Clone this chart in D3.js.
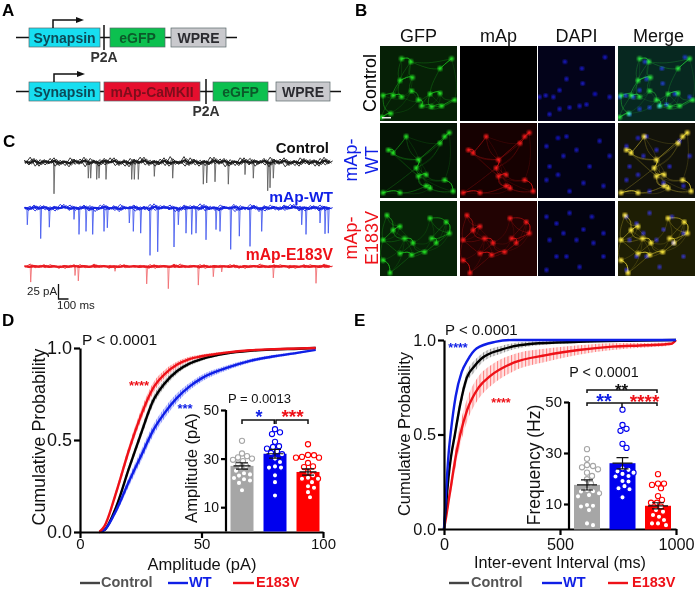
<!DOCTYPE html>
<html>
<head>
<meta charset="utf-8">
<script src="https://cdn.jsdelivr.net/npm/d3@7"></script>
<style>
html, body { margin: 0; padding: 0; background: #fff; }
svg { display: block; font-family: "Liberation Sans", Arial, sans-serif; }
.axis path, .axis line { stroke: #000; stroke-width: 2.2px; }
.axis text { fill: #111; }
</style>
</head>
<body>
<svg id="chart" width="696" height="590"></svg>
<script>
// groups
var groups = ["Control", "WT", "E183V"];

// panel A
var constructOne = ["Synapsin", "eGFP", "WPRE"];
var constructTwo = ["Synapsin", "mAp-CaMKII", "eGFP", "WPRE"];

// panel B, cell positions (percent of the tile)
var channels = ["GFP", "mAp", "DAPI", "Merge"];
var controlCells = [[26,46],[40,21],[42,42],[78,30],[93,17],[4,66],[17,66],[28,68],[41,60],[50,72],[54,80],[67,81],[80,80],[78,63],[97,72],[14,90],[2,95],[65,64],[28,17]];
var wtCells = [[34,18],[84,18],[78,27],[17,40],[50,49],[47,60],[60,69],[50,71],[84,76],[60,84],[4,93],[26,93],[95,91],[65,87],[90,13],[11,36]];
var e183vCells = [[9,19],[26,34],[65,23],[17,39],[32,50],[4,52],[67,50],[43,56],[58,68],[73,56],[13,96],[86,28],[26,70],[4,79],[41,72],[90,43]];
var controlDapi = [[10,66],[20,68],[28,59],[35,21],[57,30],[74,64],[93,68],[54,80],[41,82],[63,78],[28,84],[15,91],[2,68],[37,44],[87,15],[58,50]];
var wtDapi = [[11,31],[80,24],[26,20],[33,44],[50,36],[15,58],[67,58],[11,76],[26,69],[41,91],[59,80],[85,84],[37,18],[93,44]];
var e183vDapi = [[11,21],[24,30],[41,16],[70,21],[59,38],[85,43],[15,52],[33,43],[50,52],[72,56],[37,74],[11,92],[85,74],[54,88],[24,74]];

// panel C, baseline noise in pA, one reading per 50 ms
var controlNoise = [3,-5,6,-7,4,-3,7,-6,2,-8,5,-4,8,-5,3,-7,6,-2,7,-6,4,-8,5,-3,8,-6,3,-5,7,-7,2,-4,9,-6,5,-7,3,-5,8,-4,6,-7,2,-6,7,-5,4,-3,6,-8,5,-4,7,-6,3,-7,6,-5,4,-7,8,-3];
var wtNoise = [1,-4,5,-2,4,-5,3,-1,6,-4,2,-3,5,-5,1,-2,6,-3,4,-6,2,-1,5,-4,3,-5,7,-2,4,-3,2,-6,5,-1,4,-4,6,-3,2,-5,3,-2,6,-4,1,-3,5,-6,4,-2,3,-4,5,-1,6,-5,2,-3,4,-5,3,-2];
var e183vNoise = [1,-2,2,-1,3,-2,1,-3,2,-1,3,-2,2,-2,4,-1,2,-3,1,-2,3,-1,2,-2,1,-3,3,-1,2,-2,4,-2,1,-1,2,-3,3,-2,2,-1,1,-2,3,-3,2,-1,2,-2,1,-2,3,-1,2,-3,1,-1,3,-2,2,-2,4,-1];

// panel C, events: time (ms), amplitude (pA)
var controlEvents = [[300,53],[643,27],[667,27],[727,29],[750,27],[820,29],[1077,29],[1103,29],[1143,29],[1303,24],[1487,27],[1793,37],[1827,35],[1910,33],[2043,37],[2210,21],[2293,27],[2437,48],[2460,43],[2493,27]];
var wtEvents = [[33,28],[167,51],[253,32],[500,19],[550,44],[620,39],[687,44],[800,39],[833,33],[1053,25],[1093,39],[1167,42],[1260,79],[1337,73],[1500,65],[1543,28],[1620,42],[1677,44],[1720,42],[1820,53],[1920,36],[1960,39],[2067,69],[2153,47],[2260,64],[2377,39],[2777,28],[2820,44],[2960,25],[3010,43],[3043,42]];
var e183vEvents = [[67,26],[510,15],[543,24],[910,8],[1227,29],[1443,37],[1743,31],[1893,17],[1977,9],[2493,19],[2920,28]];

// panel D, cumulative amplitude
var ampX = [8,10,15,20,25,30,35,40,45,50,60,70,80,90,97];
var ampControl = [0,0.01,0.14,0.34,0.53,0.71,0.81,0.875,0.915,0.94,0.97,0.985,0.992,0.996,1];
var ampWt = [0,0.01,0.12,0.27,0.41,0.55,0.65,0.73,0.79,0.835,0.89,0.93,0.955,0.975,0.99];
var ampE183v = [0,0.03,0.22,0.44,0.63,0.78,0.86,0.91,0.94,0.955,0.975,0.988,0.994,0.997,1];
var ampSemControl = [0,0.005,0.015,0.02,0.025,0.025,0.02,0.016,0.012,0.01,0.006,0.004,0.003,0.002,0];
var ampSemWt = [0,0.005,0.015,0.025,0.03,0.03,0.028,0.025,0.02,0.018,0.014,0.01,0.008,0.006,0.004];
var ampSemE183v = [0,0.005,0.02,0.025,0.03,0.028,0.022,0.016,0.012,0.01,0.006,0.004,0.003,0.002,0];

// panel D inset
var ampMeans = [27, 32, 24.5];
var ampSems = [1.3, 1.8, 1.3];
var ampPointsControl = [37.3,32.1,31,30.5,30,29.5,29,28,27,26,25,24,23.5,23,22,21.5,21,20,17];
var ampPointsWt = [42.1,40.8,40.1,36.9,35.1,34.8,34.1,33,32.3,31.8,30,28.6,26.8,26.3,26.3,23.1,20.3,14.8];
var ampPointsE183v = [35.9,31.5,31.4,30.7,30.4,30.4,28.2,26.8,26.5,24.5,23.1,22.1,21.7,21.7,20.3,18.6,18,16.2,14.1];

// panel E, cumulative inter-event interval
var ieiXControl = [0,10,20,30,47,70,98,130,160,250,380,580,800,1000];
var ieiControl = [0,0.14,0.28,0.38,0.5,0.66,0.8,0.86,0.9,0.95,0.98,0.99,0.996,1];
var ieiSemControl = [0,0.01,0.02,0.025,0.03,0.03,0.03,0.03,0.025,0.02,0.012,0.006,0.003,0];
var ieiXWt = [0,10,20,30,50,76,100,140,220,300,500,1000];
var ieiWt = [0,0.22,0.4,0.52,0.7,0.83,0.89,0.955,0.99,1,1,1];
var ieiSemWt = [0,0.01,0.012,0.014,0.012,0.01,0.008,0.005,0.002,0,0,0];
var ieiXE183v = [0,10,20,33,50,70,100,150,200,300,440,580,725,870,980,1000];
var ieiE183v = [0,0.07,0.15,0.25,0.38,0.5,0.63,0.75,0.81,0.88,0.92,0.947,0.965,0.972,0.98,1];
var ieiSemE183v = [0,0.015,0.03,0.04,0.05,0.055,0.06,0.06,0.055,0.045,0.035,0.025,0.018,0.012,0.008,0];

// panel E inset
var freqMeans = [17.5, 26, 9.3];
var freqSems = [2, 2.2, 1.2];
var freqPointsControl = [31.5,27.7,25.3,24.9,24.4,23.6,22.3,21,19.7,18,15.5,15,14.9,14.2,13.5,13,9.6,9.3,9,7.6,2.4,1.7];
var freqPointsWt = [47,41,39.5,38.7,33.6,32,24,23.4,22.8,22.3,21.8,21,20.8,19,18.8,17,16.2,15.8,12.6];
var freqPointsE183v = [21.7,18,18,17.5,16.2,13.1,11.6,10.5,10.5,9,7.6,7,5.7,5,3.7,2.4,2.4,1.7];

var colors = { Control: "#000000", WT: "#0f1fe6", E183V: "#ee1118" };
var barColors = { Control: "#a6a6a6", WT: "#0000ee", E183V: "#ff0000" };
var legendColors = { Control: "#555555", WT: "#0f1fe6", E183V: "#ee1118" };

var svg = d3.select("#chart");

function label(parent, str, x, y, size, opts) {
    opts = opts || {};
    var t = parent.append("text")
        .attr("x", x)
        .attr("y", y)
        .attr("font-size", size)
        .attr("text-anchor", opts.anchor || "start")
        .attr("fill", opts.fill || "#111")
        .attr("font-weight", opts.bold ? "bold" : "normal")
        .text(str);
    if (opts.rotate) t.attr("transform", "rotate(-90 " + x + " " + y + ")");
    return t;
}

// panel letters
[["A", 2, 16], ["B", 355, 16], ["C", 3, 147], ["D", 2, 326], ["E", 354, 326]].forEach(function (d) {
    label(svg, d[0], d[1], d[2], 17, { bold: true, fill: "#000" });
});

/* ---------- A ---------- */
var partStyle = {
    "Synapsin": { fill: "#17def0", text: "#0c4a58" },
    "eGFP": { fill: "#0cc04f", text: "#0b5a2a" },
    "WPRE": { fill: "#c9c9cd", text: "#2b2b30" },
    "mAp-CaMKII": { fill: "#e60f2e", text: "#7d0e1c" }
};

function construct(parts, spans, y, lineEnd, tickX, arrowX) {
    var g = svg.append("g");
    g.append("line").attr("x1", 16).attr("x2", lineEnd).attr("y1", y + 9.5).attr("y2", y + 9.5)
        .attr("stroke", "#111").attr("stroke-width", 1.4);
    parts.forEach(function (p, i) {
        g.append("rect").attr("x", spans[i][0]).attr("y", y).attr("width", spans[i][1] - spans[i][0]).attr("height", 19)
            .attr("fill", partStyle[p].fill).attr("stroke", "#59686a").attr("stroke-width", 0.7);
        label(g, p, (spans[i][0] + spans[i][1]) / 2, y + 14.5, 14, { anchor: "middle", bold: true, fill: partStyle[p].text });
    });
    g.append("line").attr("x1", tickX).attr("x2", tickX).attr("y1", y - 3).attr("y2", y + 22)
        .attr("stroke", "#111").attr("stroke-width", 1.5);
    label(g, "P2A", tickX, y + 34, 14, { anchor: "middle", bold: true, fill: "#333" });
    g.append("path").attr("d", "M" + arrowX + "," + y + "V" + (y - 8) + "H" + (arrowX + 24))
        .attr("fill", "none").attr("stroke", "#111").attr("stroke-width", 1.5);
    g.append("path").attr("d", "M" + (arrowX + 31) + "," + (y - 8) + "l-8,-3v6z").attr("fill", "#111");
}
construct(constructOne, [[29, 100], [110, 165], [171, 226]], 28, 237, 104, 53);
construct(constructTwo, [[29, 100], [104, 200], [213, 268], [276, 330]], 82, 341, 206, 54);

/* ---------- B ---------- */
var defs = svg.append("defs");
defs.append("filter").attr("id", "soft").append("feGaussianBlur").attr("stdDeviation", 0.8);
defs.append("filter").attr("id", "softer").append("feGaussianBlur").attr("stdDeviation", 0.3);

var tileX = [380, 460, 538, 618];
var tileY = [46, 123, 201];
var tileW = 77, tileH = 75;
var rowCells = [controlCells, wtCells, e183vCells];
var rowDapi = [controlDapi, wtDapi, e183vDapi];
var tileBg = [
    ["#062006", "#000000", "#03031a", "#072820"],
    ["#051405", "#160101", "#020214", "#12120a"],
    ["#072207", "#220303", "#020210", "#1e1e04"]
];
var channelColor = { GFP: "#25e825", mAp: "#ff1c1c", DAPI: "#1c1ce0" };

function nearest(cells, c, skip) {
    return cells.filter(function (o) { return o !== c; })
        .sort(function (a, b) { return Math.hypot(a[0] - c[0], a[1] - c[1]) - Math.hypot(b[0] - c[0], b[1] - c[1]); })[skip];
}

function drawCells(tile, cells, color, withProcesses, blend) {
    var x = d3.scaleLinear().domain([0, 100]).range([0, tileW]);
    var y = d3.scaleLinear().domain([0, 100]).range([0, tileH]);
    var layer = tile.append("g");
    if (blend) layer.style("mix-blend-mode", "screen");
    if (withProcesses) {
        var line = d3.line().x(function (d) { return x(d[0]); }).y(function (d) { return y(d[1]); }).curve(d3.curveBasis);
        cells.forEach(function (c) {
            var a = nearest(cells, c, 0), b = nearest(cells, c, 2), e = nearest(cells, c, 4);
            layer.append("path").attr("d", line([c, [(c[0] + a[0]) / 2 + 4, (c[1] + a[1]) / 2 - 4], a]))
                .attr("fill", "none").attr("stroke", color).attr("stroke-width", 0.8).attr("opacity", 0.55).attr("filter", "url(#softer)");
            layer.append("path").attr("d", line([c, [(c[0] + b[0]) / 2 - 5, (c[1] + b[1]) / 2 + 5], b]))
                .attr("fill", "none").attr("stroke", color).attr("stroke-width", 0.6).attr("opacity", 0.35).attr("filter", "url(#softer)");
            layer.append("path").attr("d", line([c, [(c[0] + e[0]) / 2 + 6, (c[1] + e[1]) / 2 + 6], e]))
                .attr("fill", "none").attr("stroke", color).attr("stroke-width", 0.5).attr("opacity", 0.25).attr("filter", "url(#softer)");
        });
    }
    layer.selectAll("circle").data(cells).join("circle")
        .attr("cx", function (d) { return x(d[0]); })
        .attr("cy", function (d) { return y(d[1]); })
        .attr("r", withProcesses ? 2.3 : 2)
        .attr("fill", color)
        .attr("filter", "url(#soft)");
}

channels.forEach(function (ch, c) {
    label(svg, ch, tileX[c] + tileW / 2 + (c == 3 ? 2 : 0), 42, 18, { anchor: "middle" });
    tileY.forEach(function (ty, r) {
        var tile = svg.append("svg").attr("x", tileX[c]).attr("y", ty).attr("width", tileW).attr("height", tileH);
        tile.append("rect").attr("width", tileW).attr("height", tileH).attr("fill", tileBg[r][c]);
        var cells = rowCells[r];
        if (ch == "GFP") drawCells(tile, cells, channelColor.GFP, true, false);
        if (ch == "mAp" && r > 0) drawCells(tile, cells, channelColor.mAp, true, false);
        if (ch == "DAPI") drawCells(tile, rowDapi[r], channelColor.DAPI, false, false);
        if (ch == "Merge") {
            drawCells(tile, cells, channelColor.GFP, true, true);
            if (r > 0) drawCells(tile, cells, channelColor.mAp, true, true);
            drawCells(tile, rowDapi[r], channelColor.DAPI, false, true);
        }
    });
});
svg.append("rect").attr("x", 382).attr("y", 117).attr("width", 9).attr("height", 1.5).attr("fill", "#eee");

label(svg, "Control", 376, 83, 18, { anchor: "middle", rotate: true, fill: "#000" });
label(svg, "mAp-", 357, 160, 18, { anchor: "middle", rotate: true, fill: colors.WT });
label(svg, "WT", 378, 160, 18, { anchor: "middle", rotate: true, fill: colors.WT });
label(svg, "mAp-", 357, 238, 18, { anchor: "middle", rotate: true, fill: colors.E183V });
label(svg, "E183V", 378, 238, 18, { anchor: "middle", rotate: true, fill: colors.E183V });

/* ---------- C ---------- */
var traceX = d3.scaleLinear().domain([0, 3080]).range([24, 332]);
var pAtoPx = d3.scaleLinear().domain([0, 25]).range([0, 15]);

function trace(noise, events, baseline, color, eventColor) {
    var line = d3.line()
        .x(function (d) { return traceX(d[0]); })
        .y(function (d) { return baseline - pAtoPx(d[1]); });
    // thin event sweeps go under the noise band
    events.forEach(function (e) {
        svg.append("path").attr("d", line([[e[0] - 5, 0], [e[0], -e[1]], [e[0] + 9, 0]]))
            .attr("fill", "none").attr("stroke", eventColor).attr("stroke-width", 0.8);
    });
    // the band: the noise readings swept over a few times with a shifted start
    [0, 12, 25, 37].forEach(function (shift, s) {
        var vals = s % 2 ? noise.slice().reverse() : noise;
        var pts = vals.map(function (v, i) { return [i * 50 + shift, v * (s > 1 ? 0.6 : 1)]; });
        svg.append("path").attr("d", line(pts)).attr("fill", "none").attr("stroke", color).attr("stroke-width", 0.9);
    });
    // dense middle of the band
    var mid = noise.map(function (v, i) { return [i * 50 + 6, v * 0.3]; });
    svg.append("path").attr("d", line(mid)).attr("fill", "none").attr("stroke", color).attr("stroke-width", 2);
}
trace(controlNoise, controlEvents, 162, "#1c1c1c", "#555");
trace(wtNoise, wtEvents, 208, "#1524e0", "#3b52ee");
trace(e183vNoise, e183vEvents, 266.5, "#ea1a20", "#f0666a");

label(svg, "Control", 329, 153, 15, { anchor: "end", bold: true, fill: "#111" });
label(svg, "mAp-WT", 333, 202, 15.5, { anchor: "end", bold: true, fill: colors.WT });
label(svg, "mAp-E183V", 333, 260, 15.7, { anchor: "end", bold: true, fill: colors.E183V });

var barLeft = 58.5, barBottom = 299;
svg.append("path")
    .attr("d", "M" + barLeft + "," + (barBottom - pAtoPx(25)) + "V" + barBottom + "H" + (barLeft + traceX(100) - traceX(0)))
    .attr("fill", "none").attr("stroke", "#111").attr("stroke-width", 1.3);
label(svg, "25 pA", 27, 295, 11.5, { fill: "#222" });
label(svg, "100 ms", 57, 309, 11.5, { fill: "#222" });

/* ---------- D / E shared ---------- */
function hatch(id, color, spacing) {
    var p = defs.append("pattern").attr("id", id).attr("patternUnits", "userSpaceOnUse")
        .attr("width", spacing).attr("height", 4);
    p.append("rect").attr("width", spacing).attr("height", 4).attr("fill", color).attr("opacity", 0.15);
    p.append("rect").attr("width", 1).attr("height", 4).attr("fill", color).attr("opacity", 0.6);
}
hatch("hatchDControl", "#555555", 2.4);
hatch("hatchDWT", "#2a3aff", 2.4);
hatch("hatchDE183V", "#ff2a2a", 2.4);
hatch("hatchEControl", "#555555", 3.5);
hatch("hatchEWT", "#2a3aff", 3.5);
hatch("hatchEE183V", "#ff3a3a", 3.5);

function curve(x, y, xs, ys, sems, group, prefix) {
    var pts = xs.map(function (v, i) { return { x: v, y: ys[i], s: sems[i] }; });
    var area = d3.area().x(function (d) { return x(d.x); })
        .y0(function (d) { return y(Math.max(0, d.y - d.s)); })
        .y1(function (d) { return y(Math.min(1, d.y + d.s)); })
        .curve(d3.curveMonotoneX);
    var line = d3.line().x(function (d) { return x(d.x); }).y(function (d) { return y(d.y); }).curve(d3.curveMonotoneX);
    svg.append("path").attr("d", area(pts)).attr("fill", "url(#hatch" + prefix + group + ")");
    svg.append("path").attr("d", line(pts)).attr("fill", "none").attr("stroke", colors[group]).attr("stroke-width", 2.4);
}

function mainAxes(x, y, xTicks, o) {
    var gx = svg.append("g").attr("class", "axis").attr("transform", "translate(0," + y.range()[0] + ")")
        .call(d3.axisBottom(x).tickValues(xTicks).tickFormat(d3.format("d")).tickSize(6).tickSizeOuter(0).tickPadding(o.pad));
    var gy = svg.append("g").attr("class", "axis").attr("transform", "translate(" + x.range()[0] + ",0)")
        .call(d3.axisLeft(y).tickValues([0, 0.5, 1]).tickFormat(d3.format(".1f")).tickSize(6).tickSizeOuter(0).tickPadding(2));
    gx.selectAll("text").attr("font-size", o.tick).attr("font-family", "Liberation Sans");
    gy.selectAll("text").attr("font-size", o.yTick).attr("font-family", "Liberation Sans");
    label(svg, o.xTitle, o.titleX, o.titleY, o.titleSize, { anchor: "middle" });
    label(svg, "Cumulative Probability", o.yTitleX, o.yTitleY, o.yTitleSize, { anchor: "middle", rotate: true });
}

// prism style swarm, each point is pushed sideways until it clears the ones placed already
function swarm(values, y, minDist) {
    var placed = [];
    values.slice().sort(d3.descending).forEach(function (v) {
        var py = y(v), dx = 0, step = 0;
        while (placed.some(function (p) { return Math.hypot(p.x - dx, p.y - py) < minDist; })) {
            step++;
            dx = (step % 2 ? 1 : -1) * Math.ceil(step / 2);
        }
        placed.push({ x: dx, y: py });
    });
    return placed;
}

function inset(x, y, width, means, sems, points, axisX, r, tick) {
    groups.forEach(function (g, i) {
        var cx = x(g);
        svg.append("rect").attr("x", cx - width / 2).attr("y", y(means[i])).attr("width", width)
            .attr("height", y(0) - y(means[i])).attr("fill", barColors[g]);
        svg.append("g").selectAll("circle").data(swarm(points[i], y, r * 2.1)).join("circle")
            .attr("cx", function (d) { return cx + d.x; })
            .attr("cy", function (d) { return d.y; })
            .attr("r", r)
            .attr("fill", "#fff")
            .attr("stroke", barColors[g])
            .attr("stroke-width", 1.1);
        var hi = y(means[i] + sems[i]), lo = y(means[i] - sems[i]), cap = 6;
        svg.append("path")
            .attr("d", "M" + (cx - cap) + "," + hi + "H" + (cx + cap) + "M" + cx + "," + hi + "V" + lo
                + "M" + (cx - cap) + "," + lo + "H" + (cx + cap)
                + "M" + (cx - width / 2 + 3) + "," + y(means[i]) + "H" + (cx + width / 2 - 3))
            .attr("fill", "none").attr("stroke", "#111").attr("stroke-width", 1.2);
    });
    var ga = svg.append("g").attr("class", "axis").attr("transform", "translate(" + axisX + ",0)")
        .call(d3.axisLeft(y).tickValues([10, 30, 50]).tickSize(5).tickSizeOuter(0).tickPadding(2));
    ga.selectAll("text").attr("font-size", tick).attr("font-family", "Liberation Sans");
    ga.select(".domain").attr("d", "M0," + y(50) + "V" + y(0));
}

function bracket(x1, x2, yTop, drop) {
    svg.append("path").attr("d", "M" + x1 + "," + (yTop + drop) + "V" + yTop + "H" + x2 + "V" + (yTop + drop))
        .attr("fill", "none").attr("stroke", "#111").attr("stroke-width", 1.5);
}

function legend(items, y) {
    items.forEach(function (d) {
        svg.append("line").attr("x1", d.x1).attr("x2", d.x2).attr("y1", y).attr("y2", y)
            .attr("stroke", d.g == "Control" ? "#444" : colors[d.g]).attr("stroke-width", 2.4);
        label(svg, d.g, d.tx, y + 3.8, 14.5, { bold: true, fill: legendColors[d.g] });
    });
}

/* ---------- D ---------- */
var dx = d3.scaleLinear().domain([0, 100]).range([80, 323]);
var dy = d3.scaleLinear().domain([0, 1]).range([532, 348]);
curve(dx, dy, ampX, ampControl, ampSemControl, "Control", "D");
curve(dx, dy, ampX, ampWt, ampSemWt, "WT", "D");
curve(dx, dy, ampX, ampE183v, ampSemE183v, "E183V", "D");
mainAxes(dx, dy, [0, 50, 100], { tick: 15, yTick: 18, pad: 0, xTitle: "Amplitude (pA)", titleX: 202, titleY: 570, titleSize: 16.5, yTitleX: 45, yTitleY: 437, yTitleSize: 17.8 });
label(svg, "P < 0.0001", 82, 345, 15.5);
label(svg, "****", 139, 390, 13, { anchor: "middle", bold: true, fill: colors.E183V });
label(svg, "***", 185, 413, 13, { anchor: "middle", bold: true, fill: colors.WT });

var dBarX = d3.scalePoint().domain(groups).range([242, 308]);
var dBarY = d3.scaleLinear().domain([0, 50]).range([531.5, 410]);
inset(dBarX, dBarY, 23, ampMeans, ampSems, [ampPointsControl, ampPointsWt, ampPointsE183v], 226, 2.6, 14);
label(svg, "Amplitude (pA)", 197, 468, 16.6, { anchor: "middle", rotate: true });
label(svg, "P = 0.0013", 228, 403, 13);
bracket(242, 274.3, 420, 4);
bracket(276, 308, 420, 4);
label(svg, "*", 259, 423, 18, { anchor: "middle", bold: true, fill: colors.WT });
label(svg, "***", 292.5, 423, 19, { anchor: "middle", bold: true, fill: colors.E183V });
legend([
    { g: "Control", x1: 80, x2: 100, tx: 101 },
    { g: "WT", x1: 168, x2: 188, tx: 189 },
    { g: "E183V", x1: 233, x2: 254, tx: 256 }
], 583);

/* ---------- E ---------- */
var ex = d3.scaleLinear().domain([0, 1000]).range([444, 676]);
var ey = d3.scaleLinear().domain([0, 1]).range([529, 340]);
curve(ex, ey, ieiXE183v, ieiE183v, ieiSemE183v, "E183V", "E");
curve(ex, ey, ieiXControl, ieiControl, ieiSemControl, "Control", "E");
curve(ex, ey, ieiXWt, ieiWt, ieiSemWt, "WT", "E");
mainAxes(ex, ey, [0, 500, 1000], { tick: 16.3, yTick: 16.3, pad: 3, xTitle: "Inter-event Interval (ms)", titleX: 560, titleY: 568, titleSize: 16.2, yTitleX: 410, yTitleY: 434, yTitleSize: 16.5 });
label(svg, "P < 0.0001", 445, 335, 15);
label(svg, "****", 458, 352, 12.5, { anchor: "middle", bold: true, fill: colors.WT });
label(svg, "****", 501, 407, 12.5, { anchor: "middle", bold: true, fill: colors.E183V });

var eBarX = d3.scalePoint().domain(groups).range([587, 658]);
var eBarY = d3.scaleLinear().domain([0, 50]).range([529.5, 402]);
inset(eBarX, eBarY, 26, freqMeans, freqSems, [freqPointsControl, freqPointsWt, freqPointsE183v], 569, 2.6, 15);
label(svg, "Frequency (Hz)", 540, 465, 17.5, { anchor: "middle", rotate: true });
label(svg, "P < 0.0001", 604, 377, 14.3, { anchor: "middle" });
bracket(587, 657, 390, 3);
bracket(587, 657, 403, 3);
svg.append("line").attr("x1", 622).attr("x2", 622).attr("y1", 403).attr("y2", 408).attr("stroke", "#111").attr("stroke-width", 1.5);
label(svg, "**", 621.5, 396, 17, { anchor: "middle", bold: true, fill: "#111" });
label(svg, "**", 604, 408, 20, { anchor: "middle", bold: true, fill: colors.WT });
label(svg, "****", 644.5, 408, 19, { anchor: "middle", bold: true, fill: colors.E183V });
legend([
    { g: "Control", x1: 449, x2: 469, tx: 471 },
    { g: "WT", x1: 542, x2: 562, tx: 563 },
    { g: "E183V", x1: 608, x2: 628, tx: 632 }
], 583);
</script>
</body>
</html>
